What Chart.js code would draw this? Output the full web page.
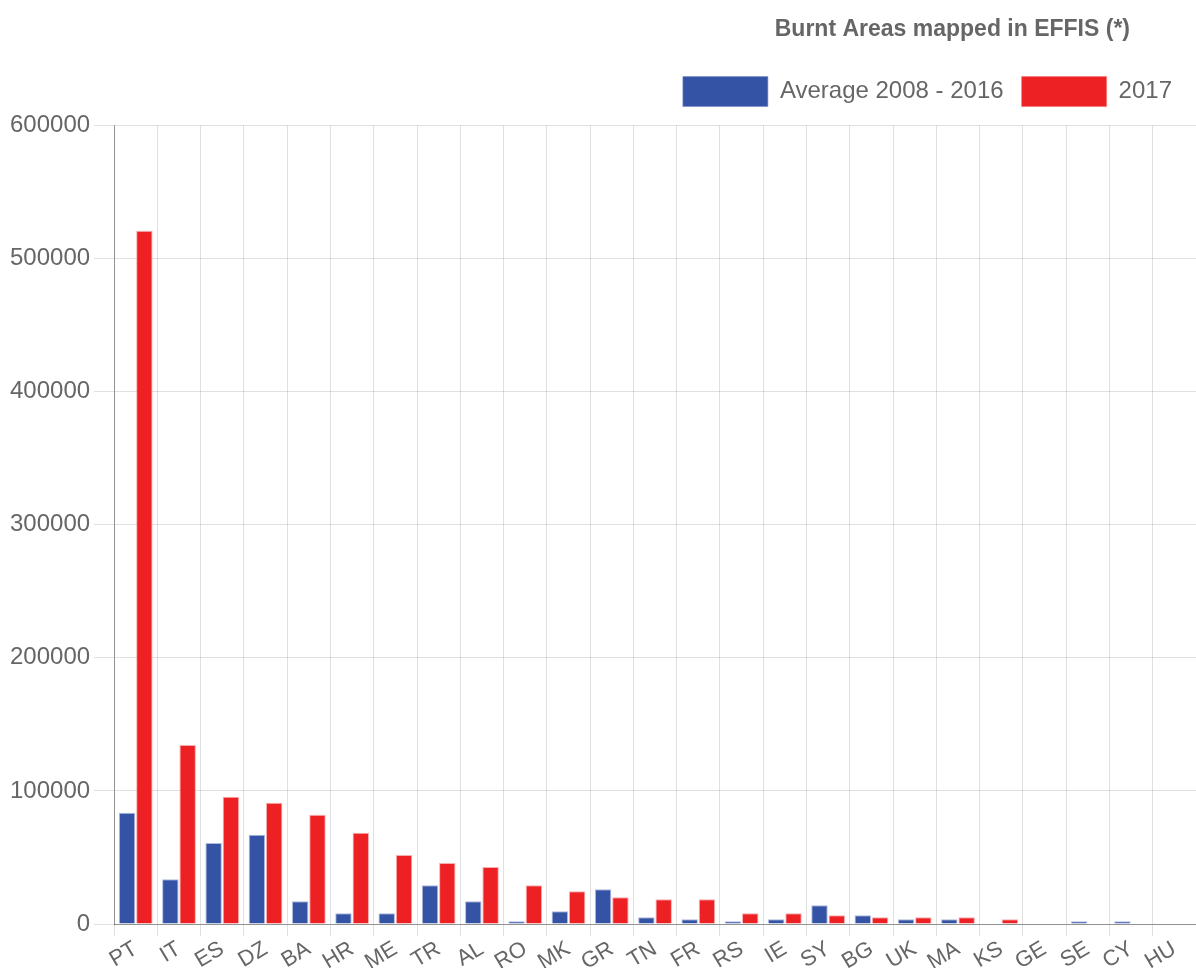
<!DOCTYPE html>
<html>
<head>
<meta charset="utf-8">
<script src="https://cdn.jsdelivr.net/npm/chart.js@4.4.0/dist/chart.umd.min.js"></script>
<style>
  html, body { margin: 0; padding: 0; background: #fff; }
  #wrap { width: 1196px; height: 968px; }
</style>
</head>
<body>
<div id="wrap"><canvas id="myChart"></canvas></div>
<script>
const countries = ['PT','IT','ES','DZ','BA','HR','ME','TR','AL','RO','MK','GR','TN','FR','RS','IE','SY','BG','UK','MA','KS','GE','SE','CY','HU'];
const average0816 = [83600,33700,60900,67000,17100,8000,8000,29200,17100,2000,9600,26200,5000,3500,2000,3500,14100,6500,3500,3500,0,0,2000,2000,0];
const burnt2017 = [521000,134500,95700,91200,82100,68500,51900,45800,42800,29200,24700,20100,18600,18600,8000,8000,6500,5000,5000,5000,3500,0,0,0,0];
const yTicks = [0,100000,200000,300000,400000,500000,600000];

Chart.defaults.font.family = "'Liberation Sans', Arial, sans-serif";
Chart.defaults.color = '#666';

// title sits a bit left of the right edge, legend gets some extra room below
const layoutTweaks = {
  id: 'layoutTweaks',
  beforeInit(chart) {
    const fit = chart.legend.fit;
    chart.legend.fit = function () {
      fit.call(this);
      this.height += 9;
    };
  },
  afterLayout(chart) {
    if (chart.titleBlock) chart.titleBlock.right -= 66;
    if (chart.legend) chart.legend.right -= 6;
  }
};

var ctx = document.getElementById("myChart").getContext("2d");
const chart = new Chart(ctx, {
  type: 'bar',
  data: {
    labels: countries,
    datasets: [
      { label: 'Average 2008 - 2016', data: average0816, backgroundColor: '#3453a5',
        borderColor: 'rgba(120,140,200,0.6)', borderWidth: 1 },
      { label: '2017', data: burnt2017, backgroundColor: '#ed2024',
        borderColor: 'rgba(245,120,120,0.6)', borderWidth: 1 }
    ]
  },
  plugins: [layoutTweaks],
  options: {
    responsive: true,
    maintainAspectRatio: false,
    animation: false,
    layout: { padding: { left: 6, right: 0, top: 0, bottom: 0 } },
    datasets: { bar: { barPercentage: 0.95, categoryPercentage: 0.8 } },
    plugins: {
      title: {
        display: true,
        text: 'Burnt Areas mapped in EFFIS (*)',
        align: 'end',
        color: '#666',
        font: { size: 23, weight: 'bold' },
        padding: { top: 16, bottom: 15 }
      },
      legend: {
        display: true,
        align: 'end',
        labels: {
          boxWidth: 85,
          boxHeight: 30,
          padding: 18,
          font: { size: 24 },
          color: '#666'
        }
      },
      tooltip: { enabled: false }
    },
    scales: {
      x: {
        grid: { color: 'rgba(0,0,0,0.12)', tickLength: 12 },
        border: { color: 'rgba(0,0,0,0.35)' },
        ticks: { font: { size: 22 }, color: '#666', minRotation: 31, maxRotation: 31, autoSkip: false, padding: 0 },
        afterFit(scale) { scale.height = 44; }
      },
      y: {
        min: 0,
        max: 600000,
        afterBuildTicks(axis) { axis.ticks = yTicks.map(v => ({ value: v })); },
        grid: { color: 'rgba(0,0,0,0.12)', tickLength: 20 },
        border: { color: 'rgba(0,0,0,0.35)' },
        ticks: { font: { size: 24 }, color: '#666', padding: 4, callback: v => String(v) }
      }
    }
  }
});
</script>
</body>
</html>
